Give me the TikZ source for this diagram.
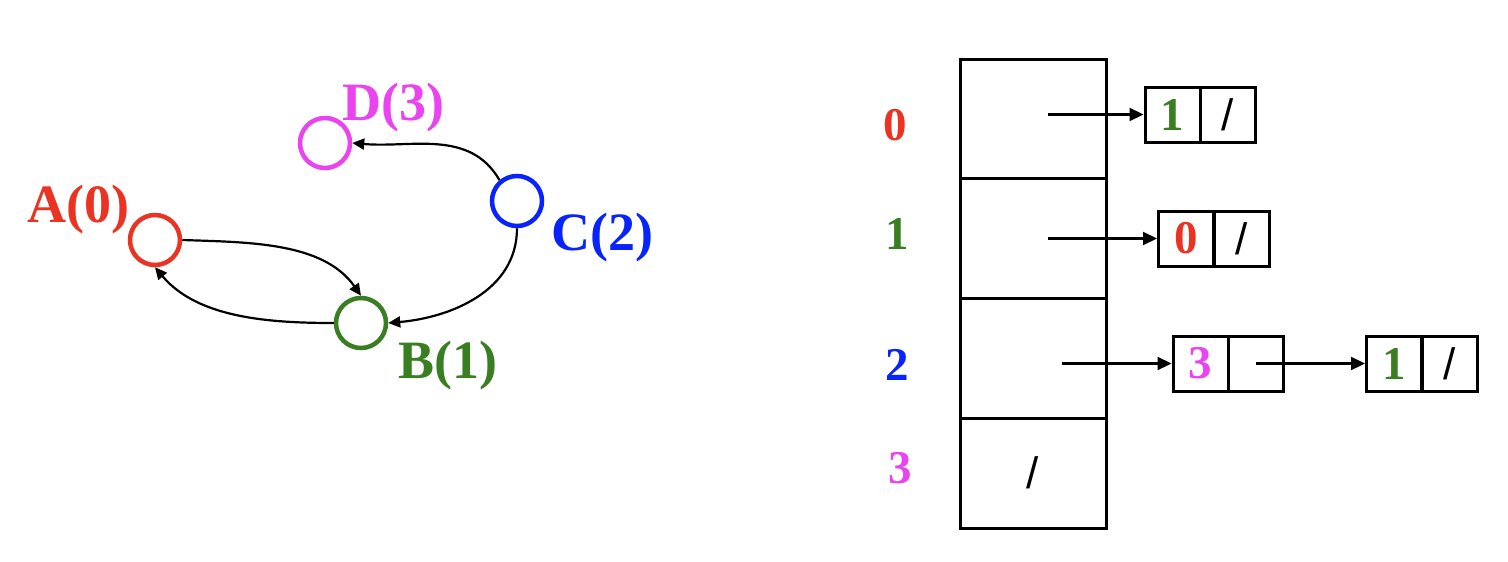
\documentclass[tikz,border=0pt]{standalone}
\usepackage{fontspec}
\setmainfont{Liberation Serif}
\newfontfamily\slashfont{Liberation Sans}
\usetikzlibrary{arrows.meta}
\definecolor{cred}{RGB}{234,51,35}
\definecolor{cgreen}{RGB}{58,126,34}
\definecolor{cblue}{RGB}{8,36,250}
\definecolor{cmag}{RGB}{234,67,240}
\begin{document}
\begin{tikzpicture}[x=1pt,y=-1pt,
  vert/.style={circle,line width=4.5pt,minimum size=50pt,inner sep=0pt},
  lbl/.style={anchor=base,inner sep=0pt,font=\fontsize{54}{60}\selectfont\bfseries},
  idx/.style={anchor=base,inner sep=0pt,font=\fontsize{47}{50}\selectfont\bfseries},
  graphedge/.style={line width=2.2pt,-{Triangle[length=12pt,width=11pt]}},
  ptr/.style={line width=2.2pt,-{Triangle[length=14pt,width=13pt]}},
  cellbox/.style={draw,line width=3pt,minimum width=55pt,minimum height=55pt,inner sep=0pt,font=\fontsize{47}{50}\selectfont\bfseries},
  slashbox/.style={cellbox,font=\slashfont\fontsize{44}{48}\selectfont},
  row/.style={draw,line width=3pt,minimum width=146pt,inner sep=0pt},
]
\useasboundingbox (0,0) rectangle (1508,562);
% graph
\node[vert,draw=cred] (A) at (155,240) {};
\node[vert,draw=cgreen] (B) at (361,323) {};
\node[vert,draw=cblue] (C) at (517,201) {};
\node[vert,draw=cmag] (D) at (325,143) {};
\node[lbl,text=cred] (la) at (78.5,222) {A(0)};
\node[lbl,text=cgreen] (lb) at (447.5,378) {B(1)};
\node[lbl,text=cblue] (lc) at (602.5,250) {C(2)};
\node[lbl,text=cmag] (ld) at (393.5,120) {D(3)};
\draw[graphedge] (A.east) to[out=-2,in=125,looseness=0.9] (B.north);
\draw[graphedge] (B.west) to[out=180,in=-50,looseness=0.9] (A.south);
\draw[graphedge] (C.south) to[out=-90,in=5] (B.east);
\draw[graphedge] (C.130) to[out=120,in=-5] (D.east);
% table
\node[row,minimum height=119pt] (r0) at (1033,118.5) {};
\node[row,minimum height=120pt] (r1) at (1033,238) {};
\node[row,minimum height=120pt] (r2) at (1033,358) {};
\node[slashbox,row,minimum height=110pt] (r3) at (1033,473) {/};
\node[idx,text=cred] (i0) at (895.5,140) {0};
\node[idx,text=cgreen] (i1) at (897.5,249) {1};
\node[idx,text=cblue] (i2) at (897.5,380) {2};
\node[idx,text=cmag] (i3) at (900,483) {3};
% list cells
\node[cellbox,text=cgreen] (n0a) at (1172.5,114.5) {1};
\node[slashbox] (n0b) at (1228,114.5) {/};
\node[cellbox,text=cred] (n1a) at (1186,238.5) {0};
\node[slashbox] (n1b) at (1241.5,238.5) {/};
\node[cellbox,text=cmag] (n2a) at (1200.5,363.5) {3};
\node[cellbox] (n2b) at (1255.5,363.5) {};
\node[cellbox,text=cgreen] (n3a) at (1394,363.5) {1};
\node[slashbox] (n3b) at (1449.5,363.5) {/};
% pointers
\coordinate (p0) at (1048,114.5);
\coordinate (p1) at (1048,238.5);
\coordinate (p2) at (1062,363.5);
\coordinate (p3) at (1256,363.5);
\draw[ptr] (p0) -- (n0a.west);
\draw[ptr] (p1) -- (n1a.west);
\draw[ptr] (p2) -- (n2a.west);
\draw[ptr] (p3) -- (n3a.west);
\end{tikzpicture}
\end{document}
